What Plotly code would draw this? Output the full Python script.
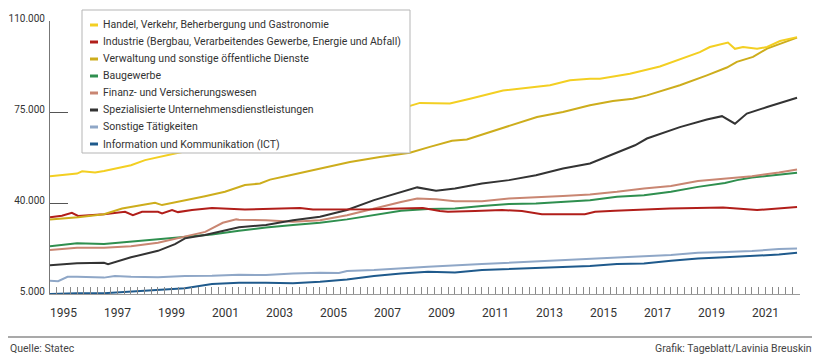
import plotly.graph_objects as go

FONT = "Roboto, Liberation Sans, sans-serif"

# ---- data ----
handel_x = [1995.00, 1996.00, 1996.19, 1996.67, 1997.00, 1998.00, 1998.52, 1999.00, 1999.63,
            2000.5, 2001.5, 2002.5, 2003.5, 2004.5, 2005.5, 2006.5,
            2007.33, 2007.59, 2008.70, 2009.81, 2010.56, 2011.78, 2012.78, 2013.52, 2014.26,
            2015.00, 2015.37, 2016.48, 2017.59, 2018.33, 2019.07, 2019.44, 2020.11, 2020.37,
            2020.67, 2021.19, 2021.56, 2022.04, 2022.67]
handel_y = [50300, 51300, 52200, 51700, 52300, 54500, 56500, 57500, 59000,
            61000, 63200, 65300, 67500, 69300, 71000, 72500,
            73700, 75000, 78500, 78300, 80100, 83300, 84400, 85300, 87200,
            87800, 87800, 89700, 92500, 95100, 98000, 100000, 101700, 99300,
            100000, 99300, 100000, 102300, 103800]

industrie_x = [1995.00, 1995.44, 1995.81, 1996.04, 1997.00, 1997.78, 1998.07, 1998.41, 1999.00,
               1999.15, 1999.52, 1999.74, 2000.26, 2001.00, 2002.22, 2003.26, 2004.26, 2004.74,
               2005.74, 2006.96, 2007.96, 2008.81, 2009.44, 2009.74, 2010.74, 2011.74, 2012.48,
               2013.22, 2014.81, 2015.19, 2015.93, 2016.67, 2017.96, 2019.93, 2021.19, 2022.67]
industrie_y = [34500, 35100, 36200, 35000, 35700, 36600, 35300, 36600, 36600,
               36000, 37300, 36500, 37300, 38100, 37500, 37900, 38100, 37500,
               37500, 37600, 37900, 38100, 36900, 36600, 36900, 37300, 36900,
               35700, 35700, 36600, 37000, 37300, 37900, 38300, 37300, 38500]

verwaltung_x = [1995.00, 1996.04, 1997.00, 1997.67, 1998.41, 1998.89, 1999.15, 1999.74, 2000.74,
                2001.48, 2002.22, 2002.78, 2003.15, 2003.89, 2005.00, 2006.11, 2007.22, 2008.33,
                2009.07, 2009.89, 2010.44, 2011.30, 2012.04, 2013.04, 2014.00, 2015.00, 2015.85,
                2016.59, 2017.11, 2018.33, 2019.33, 2020.07, 2020.44, 2021.04, 2021.56, 2022.04,
                2022.67]
verwaltung_y = [33700, 34500, 35700, 37900, 39200, 40100, 39200, 40400, 42600,
                44300, 46900, 47500, 49000, 50700, 53300, 55800, 57700, 59300,
                61600, 63900, 64400, 67300, 69900, 73100, 75000, 77600, 79200,
                80100, 81400, 85300, 89100, 92100, 94300, 96200, 99400, 101300,
                103600]

bau_x = [1995, 1996, 1997, 1998, 1999, 2000, 2001, 2002, 2003, 2004, 2005, 2006, 2007, 2008,
         2009, 2010, 2011, 2012, 2013, 2014, 2015, 2016, 2017, 2018, 2019, 2020, 2020.45,
         2021, 2022, 2022.67]
bau_y = [23400, 24500, 24200, 25100, 26000, 26800, 27900, 29300, 30600, 31500, 32400, 33700,
         35300, 37000, 37700, 37900, 38800, 39600, 39800, 40400, 41100, 42400, 43000, 44300,
         46200, 47700, 48800, 49800, 51000, 51600]

finanz_x = [1995, 1996, 1997, 1998, 1999, 2000, 2000.75, 2001.4, 2001.9, 2002, 2003, 2004,
            2005, 2006, 2007, 2008, 2008.6, 2009.3, 2010, 2011, 2012, 2013, 2014, 2015, 2016,
            2017, 2018, 2019, 2020, 2021, 2022, 2022.67]
finanz_y = [21900, 22800, 22800, 23400, 24700, 27000, 28900, 32400, 33700, 33600, 33400, 32800,
            33400, 35300, 37900, 40400, 41700, 41400, 40700, 40700, 41700, 42100, 42700, 43300,
            44300, 45600, 46500, 48500, 49400, 50300, 51700, 52900]

spez_x = [1995, 1996, 1997, 1997.15, 1998, 1999, 1999.63, 2000, 2000.74, 2001.48, 2002, 2003,
          2004, 2005, 2006, 2007, 2008, 2008.6, 2009.3, 2010, 2011, 2012, 2013, 2014, 2015,
          2016, 2016.67, 2017.11, 2018.33, 2019.33, 2019.89, 2020.37, 2020.81, 2021.56,
          2022.04, 2022.67]
spez_y = [16100, 16800, 17000, 16500, 19100, 21600, 24200, 26400, 27700, 29600, 30700, 31500,
          33400, 34700, 37300, 41100, 44300, 46000, 44700, 45600, 47500, 48800, 50700, 53300,
          55200, 59500, 62200, 64800, 69200, 72100, 73400, 70500, 74400, 76900,
          78500, 80500]

sonst_x = [1995, 1995.3, 1995.65, 1996, 1997, 1997.4, 1998, 1999, 2000, 2001, 2002, 2003, 2004,
           2005, 2005.7, 2006, 2007, 2008, 2009, 2011, 2013, 2015, 2016.6, 2018, 2019, 2020,
           2021, 2022, 2022.67]
sonst_y = [10100, 9900, 11600, 11600, 11300, 11900, 11600, 11400, 11900, 12000, 12400, 12300,
           12900, 13200, 13100, 13800, 14200, 14900, 15500, 16500, 17400, 18300, 19300, 20000,
           20900, 21200, 21500, 22300, 22500]

ict_x = [1995, 1996, 1997, 1998, 1999, 2000, 2001, 2002, 2003, 2004, 2005, 2006, 2007, 2008,
         2009, 2010, 2011, 2013, 2015, 2016, 2017, 2018, 2019, 2020, 2021, 2022, 2022.67]
ict_y = [5000, 5300, 5300, 5900, 6500, 7200, 8800, 9300, 9300, 9100, 9700, 10600, 11900, 12900,
         13600, 13300, 14200, 14900, 15800, 16500, 16700, 17800, 18700, 19100, 19600, 20200,
         20900]

series_names = [
    "Handel, Verkehr, Beherbergung und Gastronomie",
    "Industrie (Bergbau, Verarbeitendes Gewerbe, Energie und Abfall)",
    "Verwaltung und sonstige öffentliche Dienste",
    "Baugewerbe",
    "Finanz- und Versicherungswesen",
    "Spezialisierte Unternehmensdienstleistungen",
    "Sonstige Tätigkeiten",
    "Information und Kommunikation (ICT)",
]
series_colors = ["#f3cf22", "#b11e1a", "#cdad1c", "#2f8f4f", "#c98672", "#333333", "#8fa7c7", "#1f5a8c"]
series_data = [(handel_x, handel_y), (industrie_x, industrie_y), (verwaltung_x, verwaltung_y),
               (bau_x, bau_y), (finanz_x, finanz_y), (spez_x, spez_y), (sonst_x, sonst_y),
               (ict_x, ict_y)]

y_tickvals = [5000, 40000, 75000, 110000]
y_ticktext = ["5.000", "40.000", "75.000", "110.000"]
x_label_years = list(range(1995, 2022, 2))

fig = go.Figure()
draw_order = [7, 6, 3, 4, 5, 1, 2, 0]
for i in draw_order:
    xs, ys = series_data[i]
    fig.add_trace(go.Scatter(x=xs, y=ys, mode="lines", name=series_names[i],
                             line=dict(color=series_colors[i], width=2), showlegend=False))

# the page body has an 8px margin, so the figure is drawn at (8, 8)
OFF = 8
W, H = 820 - OFF, 359 - OFF
# plot area in window pixels: x 50..800, y 21..294
L, R, T, B = 50 - OFF, 820 - 800, 21 - OFF, 359 - 294
pw, ph = W - L - R, H - T - B

def px(x):  # window pixel -> paper x
    return (x - OFF - L) / pw

def py(y):  # window pixel -> paper y
    return (H - B - (y - OFF)) / ph

shapes = []
annotations = []
# legend box
shapes.append(dict(type="rect", xref="paper", yref="paper", x0=px(82), x1=px(410), y0=py(153), y1=py(10),
                   line=dict(color="#b5b5b5", width=1), fillcolor="white", layer="above"))
for i, (name, col) in enumerate(zip(series_names, series_colors)):
    yy = 25 + 17 * i
    shapes.append(dict(type="line", xref="paper", yref="paper", x0=px(90), x1=px(98), y0=py(yy), y1=py(yy),
                       line=dict(color=col, width=3), layer="above"))
    annotations.append(dict(text=name, xref="paper", yref="paper", x=px(101), y=py(yy), xanchor="left",
                            yanchor="middle", showarrow=False, font=dict(family=FONT, size=10.5, color="#333")))
# footer
shapes.append(dict(type="line", xref="paper", yref="paper", x0=px(8), x1=px(814), y0=py(337), y1=py(337),
                   line=dict(color="#8c8c8c", width=1.5)))
annotations.append(dict(text="Quelle: Statec", xref="paper", yref="paper", x=px(8), y=py(348),
                        xanchor="left", yanchor="middle", showarrow=False,
                        font=dict(family=FONT, size=10.5, color="#444")))
annotations.append(dict(text="Grafik: Tageblatt/Lavinia Breuskin", xref="paper", yref="paper", x=px(814),
                        y=py(348), xanchor="right", yanchor="middle", showarrow=False,
                        font=dict(family=FONT, size=10.5, color="#444")))

fig.update_layout(
    width=W, height=H, margin=dict(l=L, r=R, t=T, b=B, autoexpand=False),
    paper_bgcolor="white", plot_bgcolor="white",
    font=dict(family=FONT, size=12, color="#333"),
    shapes=shapes, annotations=annotations, showlegend=False,
    xaxis=dict(range=[1995, 2022.78], showgrid=False, zeroline=False, showline=True,
               linecolor="#9a9a9a", linewidth=1, automargin=False,
               tickmode="array", tickvals=[y + 0.5 for y in x_label_years],
               ticktext=[str(y) for y in x_label_years],
               ticks="inside", ticklen=7, tickcolor="#8a8a8a", tickwidth=1,
               minor=dict(ticks="inside", ticklen=7, tickcolor="#8a8a8a", tickwidth=1,
                          tickmode="linear", tick0=1995, dtick=0.25),
               tickfont=dict(family=FONT, size=12, color="#333"), ticklabelstandoff=8),
    yaxis=dict(range=[5000, 110000], showgrid=False, zeroline=False, showline=True,
               linecolor="#777", linewidth=1.2, automargin=False,
               tickmode="array", tickvals=y_tickvals, ticktext=y_ticktext,
               ticks="inside", ticklen=18, tickcolor="#555", tickwidth=1.2,
               tickfont=dict(family=FONT, size=10, color="#333"), ticklabelstandoff=2,
               ticklabelshift=-3),
)

fig.write_html("out.html")
